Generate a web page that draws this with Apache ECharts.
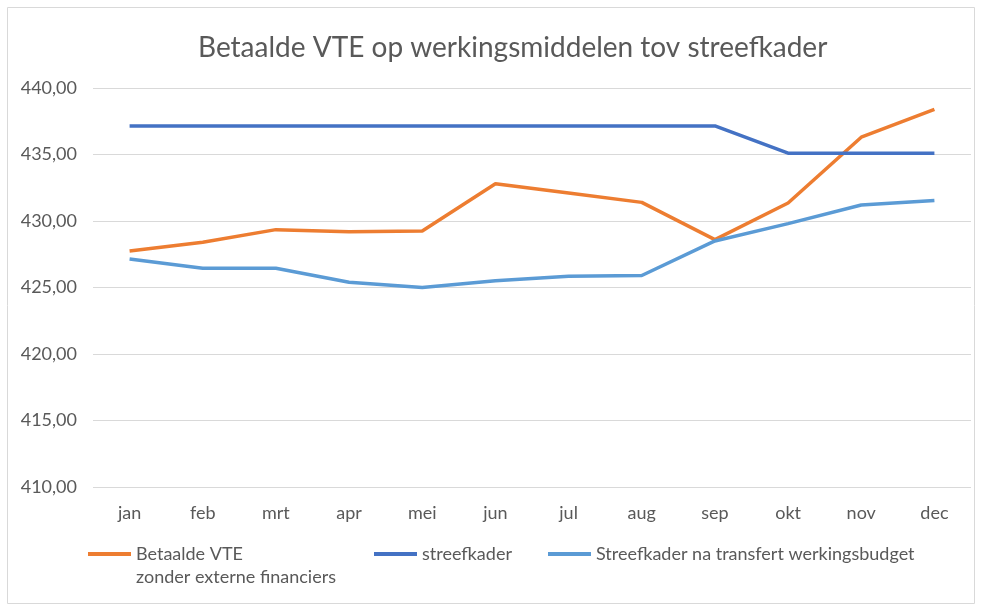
<!DOCTYPE html>
<html>
<head>
<meta charset="utf-8">
<script src="https://cdn.jsdelivr.net/npm/echarts@6/dist/echarts.min.js"></script>
<style>
  html, body { margin: 0; padding: 0; background: #fff; }
  #chart { width: 981px; height: 606px; }
</style>
</head>
<body>
<div id="chart"></div>
<script>
var maanden = ['jan', 'feb', 'mrt', 'apr', 'mei', 'jun', 'jul', 'aug', 'sep', 'okt', 'nov', 'dec'];
var betaaldeVTE = [427.75, 428.4, 429.35, 429.2, 429.25, 432.8, 432.1, 431.4, 428.6, 431.35, 436.3, 438.4];
var streefkader = [437.15, 437.15, 437.15, 437.15, 437.15, 437.15, 437.15, 437.15, 437.15, 435.1, 435.1, 435.1];
var streefkaderNaTransfert = [427.15, 426.45, 426.45, 425.4, 425.0, 425.5, 425.85, 425.9, 428.5, 429.8, 431.2, 431.55];

var fontFam = 'Lato, "Open Sans", sans-serif';
var grijs = '#595959';

var chart = echarts.init(document.getElementById('chart'));
var option = {
    animation: false,
    title: {
        text: 'Betaalde VTE op werkingsmiddelen tov streefkader',
        left: 193,
        top: 29,
        textStyle: { fontFamily: fontFam, fontSize: 28, fontWeight: 'normal', color: grijs }
    },
    graphic: [
        {
            type: 'rect',
            shape: { x: 7.5, y: 7.5, width: 967, height: 596 },
            style: { fill: null, stroke: '#d9d9d9', lineWidth: 1 }
        },
        {
            type: 'text',
            left: 136, top: 568,
            style: { text: 'zonder externe financiers', fontFamily: fontFam, fontSize: 18, fill: grijs }
        }
    ],
    legend: [
        {
            data: ['Betaalde VTE'],
            left: 88, top: 545, padding: 0,
            itemWidth: 43, itemHeight: 4,
            icon: 'rect',
            textStyle: { fontFamily: fontFam, fontSize: 18, color: grijs }
        },
        {
            data: ['streefkader'],
            left: 374, top: 545, padding: 0,
            itemWidth: 43, itemHeight: 4,
            icon: 'rect',
            textStyle: { fontFamily: fontFam, fontSize: 18, color: grijs }
        },
        {
            data: ['Streefkader na transfert werkingsbudget'],
            left: 548, top: 545, padding: 0,
            itemWidth: 43, itemHeight: 4,
            icon: 'rect',
            textStyle: { fontFamily: fontFam, fontSize: 18, color: grijs }
        }
    ],
    grid: { left: 93, right: 10, top: 88, bottom: 119 },
    xAxis: {
        type: 'category',
        data: maanden,
        axisLine: { show: false },
        axisTick: { show: false },
        axisLabel: { fontFamily: fontFam, fontSize: 18, color: grijs, margin: 17 }
    },
    yAxis: {
        type: 'value',
        min: 410,
        max: 440,
        interval: 5,
        axisLine: { show: false },
        axisTick: { show: false },
        splitLine: { lineStyle: { color: '#d9d9d9', width: 1 } },
        axisLabel: {
            fontFamily: fontFam, fontSize: 18, color: grijs, margin: 16,
            formatter: function (v) { return v.toFixed(2).replace('.', ','); }
        }
    },
    series: [
        {
            name: 'Betaalde VTE',
            type: 'line',
            data: betaaldeVTE,
            symbol: 'none',
            lineStyle: { color: '#ed7d31', width: 3.5 },
            itemStyle: { color: '#ed7d31' }
        },
        {
            name: 'streefkader',
            type: 'line',
            data: streefkader,
            symbol: 'none',
            lineStyle: { color: '#4472c4', width: 3.5 },
            itemStyle: { color: '#4472c4' }
        },
        {
            name: 'Streefkader na transfert werkingsbudget',
            type: 'line',
            data: streefkaderNaTransfert,
            symbol: 'none',
            lineStyle: { color: '#5b9bd5', width: 3.5 },
            itemStyle: { color: '#5b9bd5' }
        }
    ]
};
chart.setOption(option);
</script>
</body>
</html>
